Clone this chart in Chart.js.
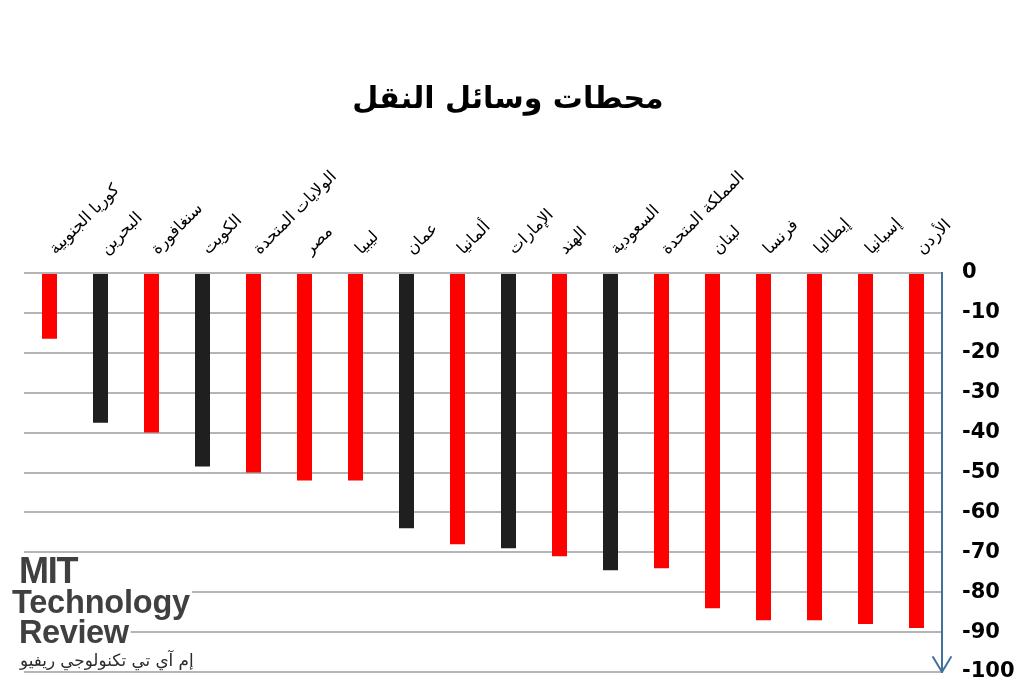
<!DOCTYPE html>
<html lang="ar">
<head>
<meta charset="utf-8">
<title>محطات وسائل النقل</title>
<script src="https://cdn.jsdelivr.net/npm/chart.js@4.4.1/dist/chart.umd.min.js"></script>
<style>
  html, body { margin: 0; padding: 0; background: #ffffff; }
  #wrap { position: relative; width: 1024px; height: 696px; }
  canvas { display: block; }
</style>
</head>
<body>
<div id="wrap"><canvas id="chart" width="1024" height="696"></canvas></div>
<script>
// Chart text
const chartTitle = 'محطات وسائل النقل';
const logoLines = ['MIT', 'Technology', 'Review'];
const logoArabic = 'إم آي تي تكنولوجي ريفيو';

// Countries, left to right
const countries = [
  'كوريا الجنوبية', 'البحرين', 'سنغافورة', 'الكويت', 'الولايات المتحدة',
  'مصر', 'ليبيا', 'عمان', 'ألمانيا', 'الإمارات', 'الهند', 'السعودية',
  'المملكة المتحدة', 'لبنان', 'فرنسا', 'إيطاليا', 'إسبانيا', 'الأردن'
];

// Score per country (negative, 0 down to -100)
const scores = [
  -16.5, -37.5, -40, -48.5, -50,
  -52, -52, -64, -68, -69, -71, -74.5,
  -74, -84, -87, -87, -88, -89
];

// Gulf states are drawn in black, the rest in red
const groups = [
  'other', 'gulf', 'other', 'gulf', 'other',
  'other', 'other', 'gulf', 'other', 'gulf', 'other', 'gulf',
  'other', 'other', 'other', 'other', 'other', 'other'
];

// Value axis range
const axisMin = -100;
const axisMax = 0;
const axisStep = 10;

const groupColors = { gulf: '#1f1f1f', other: '#ff0000' };
const barColors = groups.map(g => groupColors[g]);

const PLOT_TOP = 273;
const AXIS_COLOR = '#41719c';

// Title, axis arrow head and logo block
const decorations = {
  id: 'decorations',
  afterDraw(chart) {
    const ctx = chart.ctx;
    const area = chart.chartArea;
    ctx.save();

    // title
    ctx.fillStyle = '#000000';
    ctx.font = 'bold 30px "DejaVu Sans"';
    ctx.textAlign = 'center';
    ctx.textBaseline = 'middle';
    ctx.fillText(chartTitle, 508, 100);

    // arrow head at the bottom of the value axis
    ctx.strokeStyle = AXIS_COLOR;
    ctx.lineWidth = 2;
    ctx.lineCap = 'round';
    ctx.lineJoin = 'round';
    ctx.beginPath();
    ctx.moveTo(area.right - 9, area.bottom - 15);
    ctx.lineTo(area.right, area.bottom);
    ctx.lineTo(area.right + 9, area.bottom - 15);
    ctx.stroke();

    // logo block
    ctx.textAlign = 'left';
    ctx.textBaseline = 'alphabetic';
    const rows = [
      { text: logoLines[0], font: 'bold 36px "Liberation Sans"', x: 19, base: 583, spacing: '-1.2px', top: 555, bottom: 587 },
      { text: logoLines[1], font: 'bold 32.5px "Liberation Sans"', x: 12, base: 613, spacing: '-0.2px', top: 588, bottom: 622 },
      { text: logoLines[2], font: 'bold 32.5px "Liberation Sans"', x: 19, base: 643, spacing: '-0.4px', top: 618, bottom: 647 }
    ];
    rows.forEach(r => {
      ctx.font = r.font;
      ctx.letterSpacing = r.spacing;
      const w = ctx.measureText(r.text).width;
      ctx.fillStyle = '#ffffff';
      ctx.fillRect(r.x - 2, r.top, w + 4, r.bottom - r.top);
      ctx.fillStyle = '#404040';
      ctx.fillText(r.text, r.x, r.base);
    });
    ctx.letterSpacing = '0px';
    ctx.font = '16.8px "DejaVu Sans"';
    ctx.fillStyle = '#2a2a2a';
    ctx.fillText(logoArabic, 20, 666);

    ctx.restore();
  }
};

new Chart(document.getElementById('chart'), {
  type: 'bar',
  data: {
    labels: countries,
    datasets: [{
      data: scores,
      backgroundColor: barColors,
      borderWidth: 0,
      categoryPercentage: 1,
      barPercentage: 0.294
    }]
  },
  options: {
    responsive: false,
    animation: false,
    layout: { padding: { left: 24, right: 0, top: 0, bottom: 24 } },
    plugins: {
      legend: { display: false },
      title: { display: false },
      tooltip: { enabled: false }
    },
    scales: {
      x: {
        position: 'top',
        grid: { display: false, drawTicks: false },
        border: { display: false },
        ticks: {
          autoSkip: false,
          minRotation: 45,
          maxRotation: 45,
          padding: 14,
          labelOffset: 17,
          color: '#000000',
          font: { family: '"DejaVu Sans"', size: 16.5 }
        },
        afterFit(scale) { scale.height = PLOT_TOP; }
      },
      y: {
        position: 'right',
        min: axisMin,
        max: axisMax,
        grid: { color: '#b5b5b5', lineWidth: 2, drawTicks: false },
        border: { display: true, color: AXIS_COLOR, width: 2 },
        ticks: {
          stepSize: axisStep,
          padding: 20,
          color: '#000000',
          font: { family: '"DejaVu Sans"', size: 21, weight: 'bold' }
        },
        afterFit(scale) {
          scale.width = 82;
          scale.paddingTop = 0;
          scale.paddingBottom = 0;
        }
      }
    }
  },
  plugins: [decorations]
});
</script>
</body>
</html>
